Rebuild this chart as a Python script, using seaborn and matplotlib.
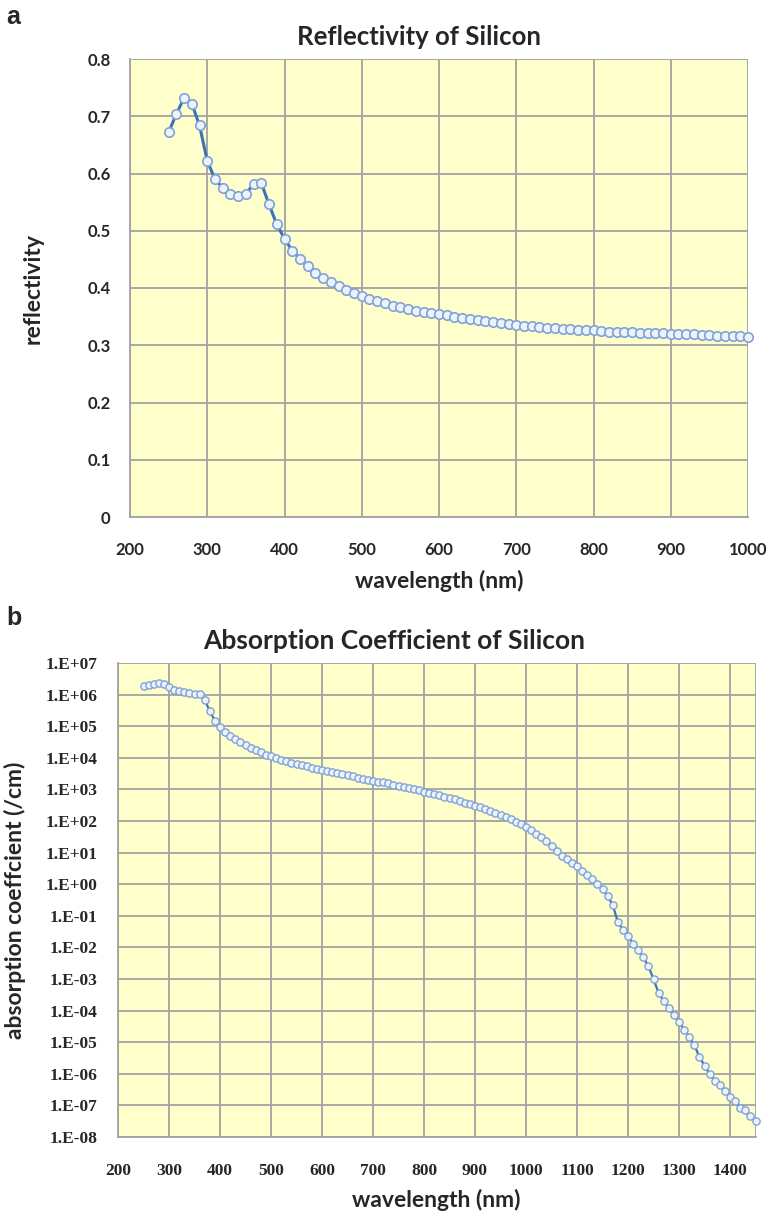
import numpy as np
import pandas as pd
import matplotlib
matplotlib.use("Agg")
import matplotlib.pyplot as plt
from matplotlib.ticker import FixedLocator, FuncFormatter, NullLocator
import seaborn as sns

# ---- data -------------------------------------------------------------
refl_wavelength = list(range(250, 1001, 10))
reflectivity = [
    0.672, 0.704, 0.732, 0.722, 0.684, 0.622, 0.590, 0.575, 0.565, 0.561,
    0.564, 0.582, 0.583, 0.546, 0.511, 0.486, 0.465, 0.451, 0.438, 0.427,
    0.417, 0.410, 0.403, 0.397, 0.391, 0.386, 0.381, 0.377, 0.373, 0.369,
    0.366, 0.363, 0.360, 0.358, 0.356, 0.354, 0.352, 0.350, 0.348, 0.346,
    0.344, 0.342, 0.340, 0.339, 0.337, 0.336, 0.334, 0.333, 0.332, 0.331,
    0.330, 0.329, 0.328, 0.327, 0.326, 0.326, 0.325, 0.324, 0.324, 0.323,
    0.323, 0.322, 0.322, 0.321, 0.321, 0.320, 0.320, 0.319, 0.319, 0.318,
    0.318, 0.317, 0.317, 0.316, 0.316, 0.315,
]

abs_wavelength = list(range(250, 1451, 10))
absorption = [
    1.84e6, 1.97e6, 2.18e6, 2.36e6, 2.24e6, 1.73e6, 1.44e6, 1.28e6, 1.17e6, 1.09e6,
    1.04e6, 1.02e6, 6.97e5, 2.93e5, 1.50e5, 9.52e4, 6.74e4, 5.00e4, 3.92e4, 3.11e4,
    2.55e4, 2.10e4, 1.72e4, 1.48e4, 1.27e4, 1.11e4, 9.70e3, 8.80e3, 7.85e3, 7.05e3,
    6.39e3, 5.78e3, 5.32e3, 4.88e3, 4.49e3, 4.14e3, 3.81e3, 3.52e3, 3.27e3, 3.04e3,
    2.81e3, 2.58e3, 2.38e3, 2.21e3, 2.05e3, 1.90e3, 1.77e3, 1.66e3, 1.54e3, 1.42e3,
    1.30e3, 1.19e3, 1.10e3, 1.01e3, 9.28e2, 8.50e2, 7.75e2, 7.07e2, 6.47e2, 5.91e2,
    5.35e2, 4.80e2, 4.32e2, 3.83e2, 3.43e2, 3.06e2, 2.72e2, 2.40e2, 2.11e2, 1.83e2,
    1.57e2, 1.34e2, 1.14e2, 9.59e1, 7.92e1, 6.40e1, 5.11e1, 3.99e1, 3.02e1, 2.26e1,
    1.63e1, 1.11e1, 8.0, 6.2, 4.7, 3.9, 2.7, 2.0, 1.5, 1.0,
    0.68, 0.42, 0.22, 0.065, 0.036, 0.023, 0.013, 0.0083, 0.0049, 0.0025,
    1.0e-3, 3.6e-4, 2.0e-4, 1.2e-4, 7.0e-5, 4.5e-5, 2.5e-5, 1.5e-5, 8.0e-6, 3.5e-6,
    1.8e-6, 1.0e-6, 6.0e-7, 4.5e-7, 2.8e-7, 1.8e-7, 1.4e-7, 8.0e-8, 7.0e-8, 4.5e-8,
    3.2e-8,
]

refl_xticks = list(range(200, 1001, 100))
refl_yticks = [0, 0.1, 0.2, 0.3, 0.4, 0.5, 0.6, 0.7, 0.8]
abs_xticks = list(range(200, 1401, 100))
abs_ydecades = list(range(-8, 8))

df_refl = pd.DataFrame({"wavelength": refl_wavelength, "reflectivity": reflectivity})
df_abs = pd.DataFrame({"wavelength": abs_wavelength, "absorption": absorption})

# ---- style ------------------------------------------------------------
sns.set_style("white")
plt.rcParams["font.family"] = ["Lato", "DejaVu Sans"]

PANEL_BG = "#FFFFCC"
GRID = "#A3A3A3"
LINE = "#3C72B8"
MFACE = "#EEF2FA"
MEDGE = "#7FA3D8"
SERIF = ["Liberation Serif", "DejaVu Serif"]

fig = plt.figure(figsize=(7.67, 12.16), dpi=100)
W, H = 767, 1216


def add_axes(left, top, right, bottom):
    return fig.add_axes([left / W, 1 - bottom / H, (right - left) / W, (bottom - top) / H])


def excel_style(ax, xpad, ypad):
    ax.set_facecolor(PANEL_BG)
    ax.grid(True, color=GRID, linewidth=1.3)
    ax.set_axisbelow(True)
    for side in ("top", "right"):
        ax.spines[side].set_visible(False)
    for side in ("left", "bottom"):
        ax.spines[side].set_color(GRID)
        ax.spines[side].set_linewidth(1.3)
    ax.tick_params(axis="both", which="major", direction="out", length=5,
                   width=1.2, color=GRID)
    ax.tick_params(axis="x", pad=xpad)
    ax.tick_params(axis="y", pad=ypad)


# ---- (a) reflectivity --------------------------------------------------
L1, T1, R1, B1 = 130, 59, 748, 517
ax1 = add_axes(L1, T1, R1, B1)
excel_style(ax1, xpad=13, ypad=9)
sns.lineplot(data=df_refl, x="wavelength", y="reflectivity", ax=ax1,
             color=LINE, linewidth=2.2, marker="o", markersize=6.8,
             markerfacecolor=MFACE, markeredgecolor=MEDGE, markeredgewidth=1.2,
             clip_on=False)
ax1.set_xlim(200, 1000)
ax1.set_ylim(0, 0.8)
ax1.xaxis.set_major_locator(FixedLocator(refl_xticks))
ax1.yaxis.set_major_locator(FixedLocator(refl_yticks))
ax1.yaxis.set_major_formatter(FuncFormatter(lambda v, p: "0" if v == 0 else f"{v:.1f}"))
for lab in ax1.get_xticklabels() + ax1.get_yticklabels():
    lab.set_fontweight("bold")
    lab.set_fontsize(12)
ax1.set_title("Reflectivity of Silicon", fontsize=18.5, fontweight="bold",
              x=(419 - L1) / (R1 - L1), y=(B1 - 37) / (B1 - T1), va="center", pad=0)
ax1.set_xlabel("wavelength (nm)", fontsize=16.5, fontweight="bold", va="center")
ax1.xaxis.set_label_coords(0.5, (B1 - 581) / (B1 - T1))
ax1.set_ylabel("reflectivity", fontsize=16.5, fontweight="bold", va="center")
ax1.yaxis.set_label_coords((33 - L1) / (R1 - L1), 0.5)

# ---- (b) absorption coefficient ---------------------------------------
L2, T2, R2, B2 = 118, 663, 755.5, 1137
ax2 = add_axes(L2, T2, R2, B2)
excel_style(ax2, xpad=14, ypad=10)
ax2.set_yscale("log")
sns.lineplot(data=df_abs, x="wavelength", y="absorption", ax=ax2,
             color=LINE, linewidth=1.6, marker="o", markersize=5.2,
             markerfacecolor=MFACE, markeredgecolor=MEDGE, markeredgewidth=1.0,
             clip_on=False)
ax2.set_xlim(200, 1450)
ax2.set_ylim(1e-8, 1e7)
ax2.xaxis.set_major_locator(FixedLocator(abs_xticks + [1450]))
ax2.yaxis.set_major_locator(FixedLocator([10.0 ** e for e in abs_ydecades]))
ax2.yaxis.set_minor_locator(NullLocator())
ax2.xaxis.set_major_formatter(FuncFormatter(lambda v, p: f"{int(v)}" if v <= 1400 else ""))
ax2.yaxis.set_major_formatter(
    FuncFormatter(lambda v, p: f"1.E{int(round(np.log10(v))):+03d}"))
for lab in ax2.get_xticklabels() + ax2.get_yticklabels():
    lab.set_fontweight("bold")
    lab.set_fontsize(12.5)
    lab.set_family(SERIF)
ax2.set_title("Absorption Coefficient of Silicon", fontsize=19, fontweight="bold",
              x=(394 - L2) / (R2 - L2), y=(B2 - 641) / (B2 - T2), va="center", pad=0)
ax2.set_xlabel("wavelength (nm)", fontsize=16.5, fontweight="bold", va="center")
ax2.xaxis.set_label_coords(0.5, (B2 - 1200) / (B2 - T2))
ax2.set_ylabel("absorption coeffcient (/cm)", fontsize=16.5, fontweight="bold", va="center")
ax2.yaxis.set_label_coords((15 - L2) / (R2 - L2), 0.5)

# panel letters
fig.text(6 / W, 1 - 17 / H, "a", fontsize=18, fontweight="bold",
         family=["Liberation Sans", "DejaVu Sans"], va="center", ha="left")
fig.text(6 / W, 1 - 618 / H, "b", fontsize=18, fontweight="bold",
         family=["Liberation Sans", "DejaVu Sans"], va="center", ha="left")

fig.savefig("out.png", dpi=100, facecolor="white")
